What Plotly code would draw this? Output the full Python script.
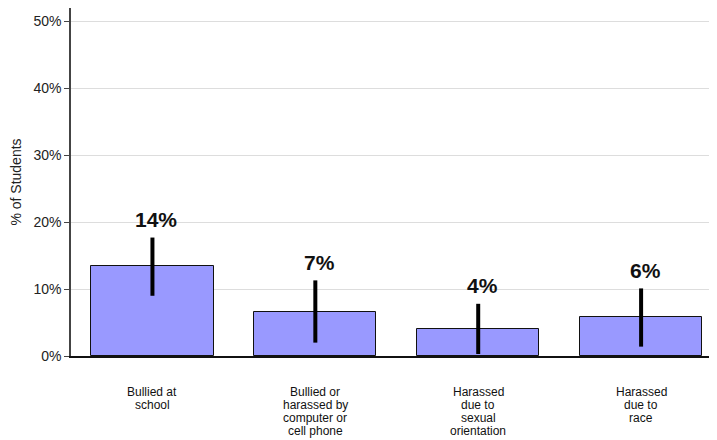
import plotly.graph_objects as go

categories = ["Bullied at<br>school",
              "Bullied or<br>harassed by<br>computer or<br>cell phone",
              "Harassed<br>due to<br>sexual<br>orientation",
              "Harassed<br>due to<br>race"]
values = [13.4, 6.65, 4.1, 5.85]
ci_upper = [17.7, 11.3, 7.8, 10.1]
ci_lower = [9.0, 2.0, 0.3, 1.4]
value_labels = ["14%", "7%", "4%", "6%"]
y_ticks = [0, 10, 20, 30, 40, 50]
y_ticktext = ["0%", "10%", "20%", "30%", "40%", "50%"]

xs = list(range(len(categories)))
FONT = "Arial, Liberation Sans, sans-serif"

fig = go.Figure()
fig.add_trace(go.Bar(
    x=xs, y=values, width=0.75,
    marker=dict(color="rgb(153,153,255)", line=dict(color="#111", width=1)),
    error_y=dict(type="data", symmetric=False,
                 array=[u - v for u, v in zip(ci_upper, values)],
                 arrayminus=[v - l for v, l in zip(values, ci_lower)],
                 color="black", thickness=4, width=0),
    hoverinfo="skip",
))

annotations = []
for x, u, t in zip(xs, ci_upper, value_labels):
    annotations.append(dict(x=x, y=u, xref="x", yref="y", text="<b>" + t + "</b>",
                            showarrow=False, yanchor="middle", yshift=18, xshift=4,
                            font=dict(family=FONT, size=21, color="#111")))
for x, cat in zip(xs, categories):
    for i, line in enumerate(cat.split("<br>")):
        annotations.append(dict(x=x, y=0, xref="x", yref="paper", text=line,
                                showarrow=False, yanchor="middle",
                                yshift=-36 - 13 * i,
                                font=dict(family=FONT, size=12, color="#111")))

# page body has an 8px margin, so the figure is drawn 8px in from the window corner
fig.update_layout(
    width=709, height=432,
    margin=dict(l=63, r=0, t=0, b=84),
    paper_bgcolor="white", plot_bgcolor="white",
    showlegend=False,
    bargap=0,
    annotations=annotations,
    font=dict(family=FONT, color="#222"),
    xaxis=dict(range=[-0.5, 3.466], showticklabels=False, showgrid=False,
               zeroline=False, showline=True, linecolor="#111", linewidth=1.5,
               ticks=""),
    yaxis=dict(range=[0, 52], tickvals=y_ticks, ticktext=y_ticktext,
               showgrid=True, gridcolor="#dddddd", gridwidth=1,
               zeroline=False, showline=True, linecolor="#444", linewidth=1.5,
               ticks="outside", ticklen=5, tickcolor="#444",
               tickfont=dict(family=FONT, size=14, color="#222"),
               title=dict(text="% of Students", standoff=11,
                          font=dict(family=FONT, size=14, color="#222"))),
)

fig.write_html("out.html")
